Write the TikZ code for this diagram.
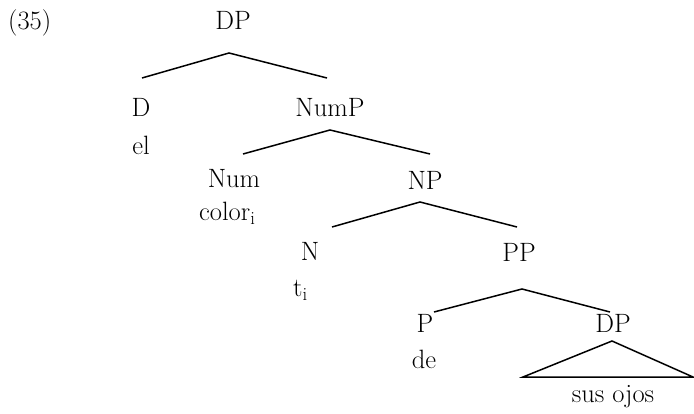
\documentclass[tikz,border=0pt]{standalone}
\begin{document}
\begin{tikzpicture}[x=1pt,y=-1pt,
  lbl/.style={inner sep=0pt,anchor=base,font=\fontsize{26.5}{30}\selectfont},
  branch/.style={line width=1.5pt}]
\useasboundingbox (0,0) rectangle (694,414);
% labels
\node[lbl,anchor=base west] (ex) at (8,30) {(35)};
\node[lbl] (dp) at (233,30) {DP};
\node[lbl] (d) at (141,117) {D};
\node[lbl] (el) at (141,155) {el};
\node[lbl] (nump) at (330,117) {NumP};
\node[lbl] (num) at (234,188) {Num};
\node[lbl,anchor=base west] (color) at (199,221) {color\textsubscript{i}};
\node[lbl] (np) at (425,190) {NP};
\node[lbl] (n) at (310,261) {N};
\node[lbl,anchor=base west] (t) at (293,297) {t\textsubscript{i}};
\node[lbl] (pp) at (519,262) {PP};
\node[lbl] (p) at (425,333) {P};
\node[lbl] (de) at (424,368) {de};
\node[lbl] (dp2) at (613,333) {DP};
\node[lbl] (susojos) at (613,402) {sus ojos};
% branch points
\coordinate (a1) at (229,53);
\coordinate (a1l) at (142,78);
\coordinate (a1r) at (327,78);
\coordinate (a2) at (330,130);
\coordinate (a2l) at (243,154);
\coordinate (a2r) at (430,154);
\coordinate (a3) at (420,202);
\coordinate (a3l) at (332,227);
\coordinate (a3r) at (517,227);
\coordinate (a4) at (522,289);
\coordinate (a4l) at (434,312);
\coordinate (a4r) at (610,312);
\coordinate (a5) at (612,341);
\coordinate (a5l) at (523,377);
\coordinate (a5r) at (693,377);
\draw[branch] (a1l) -- (a1) -- (a1r);
\draw[branch] (a2l) -- (a2) -- (a2r);
\draw[branch] (a3l) -- (a3) -- (a3r);
\draw[branch] (a4l) -- (a4) -- (a4r);
\draw[branch] (a5l) -- (a5) -- (a5r) -- cycle;
\end{tikzpicture}
\end{document}
